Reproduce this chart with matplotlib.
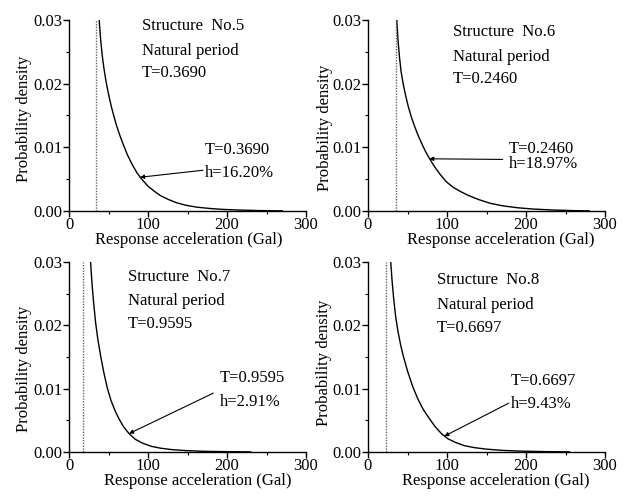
import matplotlib
matplotlib.use("Agg")
import matplotlib.pyplot as plt
from matplotlib.ticker import MultipleLocator, FormatStrFormatter

plt.rcParams['font.family'] = ['Liberation Serif', 'DejaVu Serif']
plt.rcParams['font.size'] = 12

# ---- data ----
structures = ["No.5", "No.6", "No.7", "No.8"]
periods = ["0.3690", "0.2460", "0.9595", "0.6697"]
damping = ["16.20%", "18.97%", "2.91%", "9.43%"]
lower_bounds = [33.8, 35.6, 18.1, 22.5]

x5 = [38.2, 40, 42, 44, 46, 48, 51, 54, 57, 60, 64, 68.5, 74, 80, 86, 92, 100, 108, 116,
      126, 136, 148, 162, 178, 195, 215, 240, 270]
y5 = [0.0300, 0.0270, 0.0245, 0.0226, 0.0210, 0.0196, 0.0178, 0.0162, 0.0148, 0.0135,
      0.0120, 0.0105, 0.0088, 0.0073, 0.0060, 0.0050, 0.0039, 0.0031, 0.0024, 0.0018,
      0.0013, 0.0009, 0.0006, 0.0004, 0.00025, 0.00015, 0.00007, 0.00002]
x6 = [36.4, 38, 40, 42, 44.5, 47.5, 51, 55, 59, 63, 68, 73, 78, 84, 91, 99, 108, 118, 128,
      140, 155, 171, 190, 210, 235, 260, 280]
y6 = [0.0300, 0.0268, 0.0240, 0.0218, 0.0200, 0.0182, 0.0164, 0.0147, 0.0133, 0.0120,
      0.0106, 0.0093, 0.0082, 0.0070, 0.0058, 0.0046, 0.0037, 0.0030, 0.0024, 0.0018,
      0.0012, 0.0008, 0.0005, 0.0003, 0.00015, 0.00006, 0.00002]
x7 = [27.3, 29, 31, 33.6, 36.5, 40, 44, 48.3, 53, 58, 63, 69, 76, 84, 93, 104, 116, 130,
      148, 170, 200, 230]
y7 = [0.0300, 0.0268, 0.0238, 0.0205, 0.0178, 0.0152, 0.0126, 0.0102, 0.0082, 0.0066,
      0.0053, 0.0040, 0.0029, 0.0020, 0.0014, 0.0009, 0.0006, 0.00038, 0.00022, 0.00011,
      0.00005, 0.00002]
x8 = [28.8, 30.5, 32.5, 35, 38, 41.5, 45, 50, 56.4, 63, 70, 77, 85, 93, 101, 111, 122, 135,
      150, 170, 195, 225, 255]
y8 = [0.0300, 0.0270, 0.0242, 0.0214, 0.0190, 0.0168, 0.0150, 0.0128, 0.0104, 0.0084,
      0.0067, 0.0054, 0.0040, 0.0029, 0.0021, 0.0015, 0.0010, 0.00068, 0.00045, 0.00026,
      0.00013, 0.00006, 0.00002]

curves_x = [x5, x6, x7, x8]
curves_y = [y5, y6, y7, y8]

xlabel = "Response acceleration (Gal)"
ylabel = "Probability density"

# ---- layout ----
W, H = 632, 498
fig = plt.figure(figsize=(W / 100, H / 100), dpi=100)
rects = [
    (69, 20, 237, 191),
    (368, 20, 237, 191),
    (69, 262, 237, 190),
    (368, 262, 237, 190),
]
title_pos = [
    (92.4, [0.0284, 0.0245, 0.0210]),
    (107.0, [0.0275, 0.0236, 0.0201]),
    (74.3, [0.0270, 0.0232, 0.0195]),
    (87.0, [0.0265, 0.0226, 0.0189]),
]
ann_pos = [
    (172, 0.0089, 0.0054, (169.6, 0.0064), (89.9, 0.0053)),
    (178, 0.0091, 0.00675, (170.5, 0.0081), (77.5, 0.0082)),
    (191, 0.0110, 0.0073, (182.7, 0.0093), (76.0, 0.0029)),
    (181, 0.0106, 0.0069, (178.0, 0.0077), (96.6, 0.0025)),
]
ylabel_y = [0.484, 0.437, 0.44, 0.47]
xlabel_x = [0.504, 0.56, 0.545, 0.54]
ylabel_x = [-0.19, -0.18, -0.19, -0.185]

for i in range(4):
    l, t, w, h = rects[i]
    ax = fig.add_axes([l / W, 1 - (t + h) / H, w / W, h / H])
    ax.plot(curves_x[i], curves_y[i], color='black', lw=1.0)
    ax.axvline(lower_bounds[i], ymin=0, ymax=1, color='0.4', ls=(0, (1, 1)), lw=1.0)
    ax.set_xlim(0, 300)
    ax.set_ylim(0, 0.03)
    for s in ['top', 'right']:
        ax.spines[s].set_visible(False)
    for s in ['left', 'bottom']:
        ax.spines[s].set_linewidth(1.0)
    ax.xaxis.set_major_locator(MultipleLocator(100))
    ax.xaxis.set_minor_locator(MultipleLocator(50))
    ax.yaxis.set_major_locator(MultipleLocator(0.01))
    ax.yaxis.set_minor_locator(MultipleLocator(0.005))
    ax.yaxis.set_major_formatter(FormatStrFormatter('%.2f'))
    ax.tick_params(which='major', direction='out', length=4, width=1.0, pad=0.5, labelsize=12)
    ax.tick_params(which='minor', direction='out', length=2.5, width=0.8)
    ax.set_xlabel(xlabel, fontsize=12)
    ax.xaxis.set_label_coords(xlabel_x[i], -0.152)
    ax.xaxis.label.set_va('center')
    ax.set_ylabel(ylabel, fontsize=12)
    ax.yaxis.set_label_coords(ylabel_x[i], ylabel_y[i])
    ax.yaxis.label.set_va('center')

    tx, bls = title_pos[i]
    lines = ["Structure  " + structures[i], "Natural period", "T=" + periods[i]]
    for txt, bl in zip(lines, bls):
        ax.text(tx, bl, txt, fontsize=12, va='baseline', ha='left')

    ax_x, tb, hb, tail, head = ann_pos[i]
    ax.text(ax_x, tb, "T=" + periods[i], fontsize=12, va='baseline', ha='left')
    ax.text(ax_x, hb, "h=" + damping[i], fontsize=12, va='baseline', ha='left')
    ax.annotate('', xy=head, xytext=tail,
                arrowprops=dict(arrowstyle='-|>', mutation_scale=6, lw=0.8,
                                color='black', shrinkA=0, shrinkB=0))

fig.savefig('out.png', dpi=100)
